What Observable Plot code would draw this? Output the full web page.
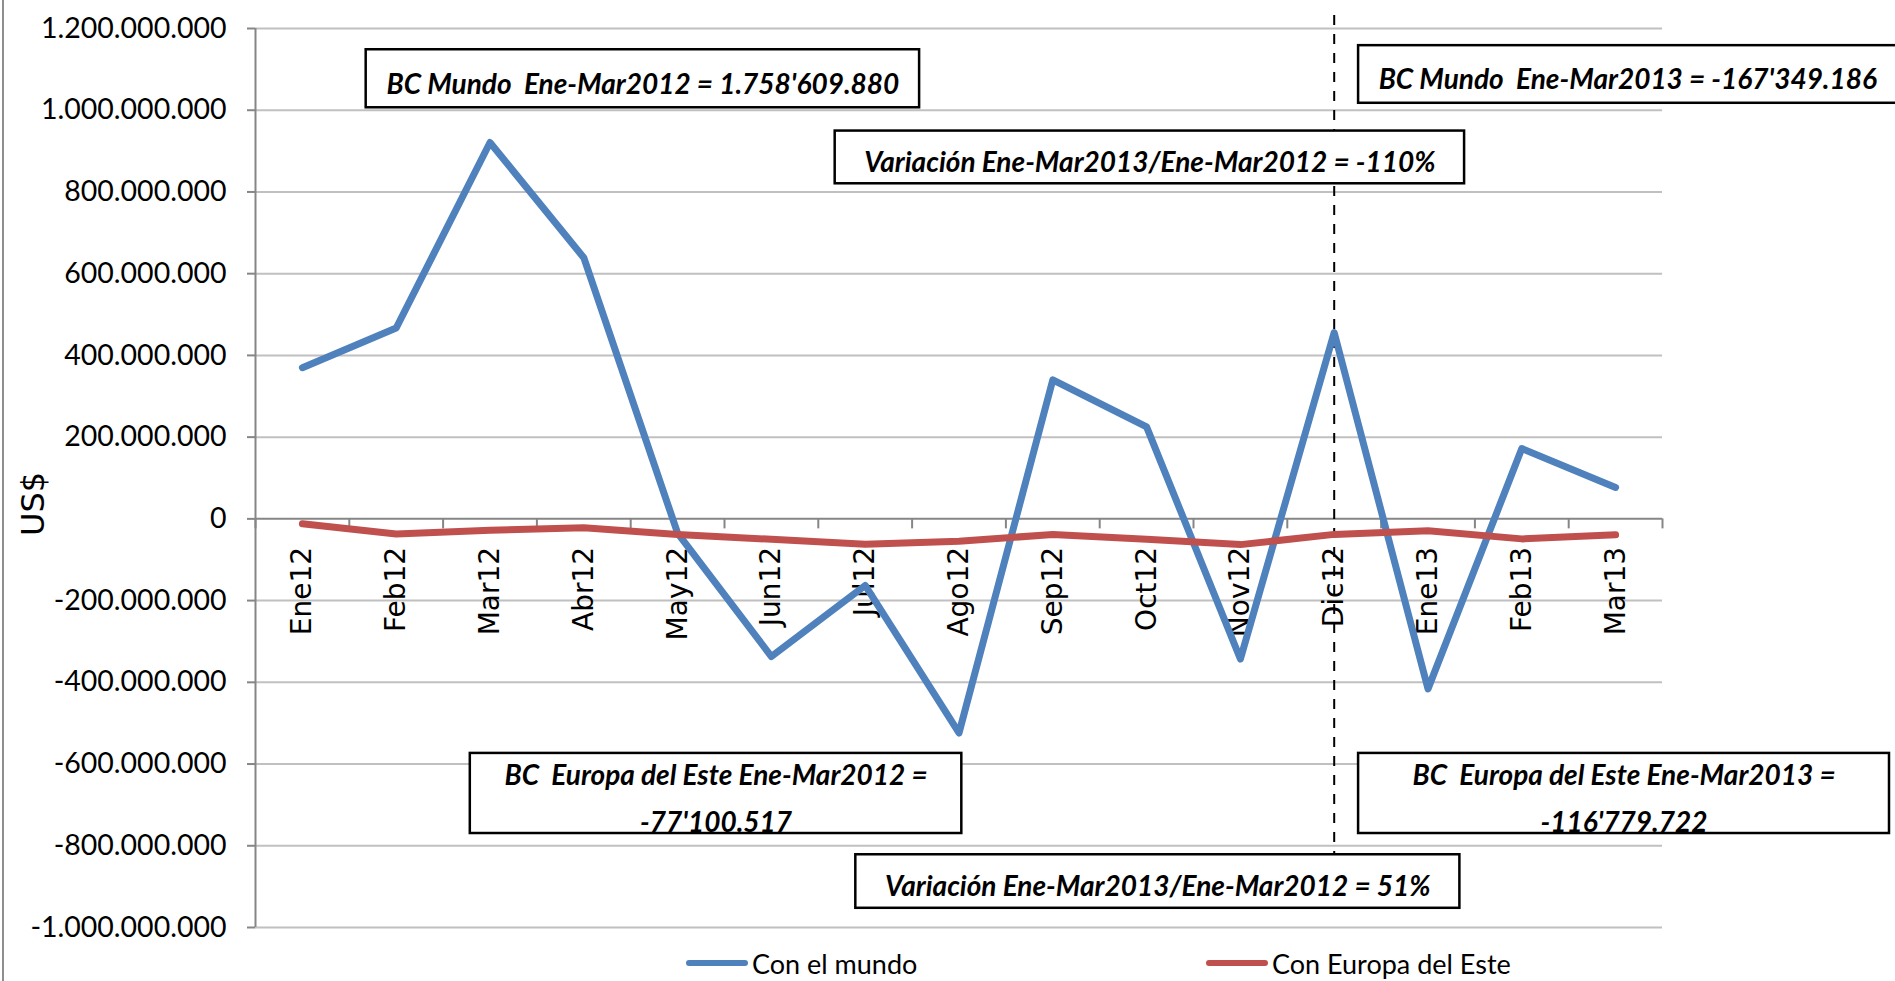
<!DOCTYPE html>
<html>
<head>
<meta charset="utf-8">
<script src="https://cdn.jsdelivr.net/npm/d3@7"></script>
<script src="https://cdn.jsdelivr.net/npm/@observablehq/plot@0.6"></script>
<style>
  html, body { margin: 0; padding: 0; background: #fff; overflow: hidden; }
  #wrap { position: relative; width: 1895px; height: 981px; background: #fff; }
  #border { position: absolute; left: 2px; top: 0; width: 2px; height: 981px; background: #8e8e8e; }
  #chart { position: absolute; left: 0; top: 0; }
  #legend { position: absolute; left: 0; top: 945px; width: 1895px; height: 36px; }
  .item { position: absolute; top: 0; height: 36px; display: flex; align-items: center;
          font-family: Lato, "Open Sans", sans-serif; font-size: 27px; color: #000; white-space: nowrap; }
  .sw { width: 62px; height: 6px; border-radius: 3px; margin-right: 4px; }
</style>
</head>
<body>
<div id="wrap">
  <div id="chart"></div>
  <div id="border"></div>
  <div id="legend"></div>
</div>
<script>
// ---- data ----
const months = ["Ene12","Feb12","Mar12","Abr12","May12","Jun12","Jul12","Ago12","Sep12","Oct12","Nov12","Dic12","Ene13","Feb13","Mar13"];
const conElMundo = [370e6, 467e6, 921e6, 639e6, -35e6, -337e6, -163e6, -524e6, 340e6, 225e6, -343e6, 456e6, -416e6, 172e6, 77e6];
const conEuropaDelEste = [-12e6, -37e6, -28e6, -22e6, -38e6, -50e6, -62e6, -55e6, -38e6, -50e6, -63e6, -38e6, -29e6, -49e6, -39e6];
const seriesNames = ["Con el mundo", "Con Europa del Este"];
const seriesColors = ["#4f81bd", "#c0504d"];
const yTicks = [-1e9, -8e8, -6e8, -4e8, -2e8, 0, 2e8, 4e8, 6e8, 8e8, 1e9, 1.2e9];
const yLabel = "US$";

// annotation boxes (in data units: month index / US$)
const notes = [
  {text: "BC Mundo  Ene-Mar2012 = 1.758'609.880", x1: 0.68, x2: 6.58, y1: 1.148e9, y2: 1.006e9},
  {text: "BC Mundo  Ene-Mar2013 = -167'349.186", x1: 11.26, x2: 17.0, y1: 1.158e9, y2: 1.017e9},
  {text: "Variación Ene-Mar2013/Ene-Mar2012 = -110%", x1: 5.68, x2: 12.39, y1: 0.949e9, y2: 0.820e9},
  {text: "BC  Europa del Este Ene-Mar2012 =\n-77'100.517", x1: 1.79, x2: 7.03, y1: -0.574e9, y2: -0.770e9},
  {text: "BC  Europa del Este Ene-Mar2013 =\n-116'779.722", x1: 11.26, x2: 16.92, y1: -0.574e9, y2: -0.770e9},
  {text: "Variación Ene-Mar2013/Ene-Mar2012 = 51%", x1: 5.90, x2: 12.34, y1: -0.822e9, y2: -0.953e9}
];
const divider = {month: "Dic12", top: 1.232e9, bottom: -0.954e9};

// ---- build ----
const rows = [];
months.forEach((m, i) => {
  rows.push({i, v: conElMundo[i], s: seriesNames[0]});
  rows.push({i, v: conEuropaDelEste[i], s: seriesNames[1]});
});
const boundaries = d3.range(months.length + 1).map(i => i - 0.5);
const fmt = d3.formatLocale({decimal: ",", thousands: ".", grouping: [3], currency: ["$", ""], minus: "-"}).format(",");
const gridGray = "#c0c0c0", axisGray = "#868686";

const plot = Plot.plot({
  width: 1895,
  height: 945,
  marginLeft: 255,
  marginRight: 233,
  marginTop: 28,
  marginBottom: 18,
  style: {background: "transparent", overflow: "visible", color: "#000"},
  x: {type: "linear", domain: [-0.5, months.length - 0.5], axis: null},
  y: {domain: [-1e9, 1.2e9]},
  color: {domain: seriesNames, range: seriesColors},
  marks: [
    Plot.ruleY(yTicks.filter(t => t !== 0), {stroke: gridGray, strokeWidth: 2}),
    Plot.ruleY([0], {stroke: axisGray, strokeWidth: 2}),
    Plot.ruleX([-0.5], {stroke: axisGray, strokeWidth: 2}),
    Plot.axisY(yTicks, {tickFormat: fmt, tickSize: 8, tickPadding: 21, label: null,
      stroke: axisGray, strokeWidth: 2, fill: "#000", fontSize: 28.5, fontFamily: "Lato"}),
    Plot.ruleX(boundaries, {x: d => d, y1: 0, y2: 0, insetBottom: -10, stroke: axisGray, strokeWidth: 2}),
    Plot.text(months, {x: (d, i) => i, y: 0, text: d => d, rotate: -90, textAnchor: "end", dy: 28,
      fontFamily: "DejaVu Sans", fontSize: 28, fill: "#000"}),
    Plot.text([yLabel], {frameAnchor: "left", dx: -222, dy: 58, rotate: -90,
      fontFamily: "DejaVu Sans", fontSize: 32, fill: "#000"}),
    Plot.ruleX([months.indexOf(divider.month)], {x: d => d, y1: divider.top, y2: divider.bottom,
      stroke: "#000", strokeWidth: 2, strokeDasharray: "10,9"}),
    Plot.line(rows, {x: "i", y: "v", z: "s", stroke: "s", strokeWidth: 7, strokeLinecap: "round", strokeLinejoin: "round"}),
    Plot.rect(notes, {x1: "x1", x2: "x2", y1: "y1", y2: "y2", fill: "#fff", stroke: "#000", strokeWidth: 2.5}),
    Plot.text(notes, {x: d => (d.x1 + d.x2) / 2, y: d => (d.y1 + d.y2) / 2, text: "text",
      fontFamily: "Lato", fontWeight: "bold", fontStyle: "italic", fontSize: 28, lineHeight: 1.66, fill: "#000"})
  ]
});
document.getElementById("chart").appendChild(plot);

// legend
const legendLeft = [686, 1206];
const lg = d3.select("#legend");
seriesNames.forEach((name, k) => {
  const it = lg.append("div").attr("class", "item").style("left", legendLeft[k] + "px");
  it.append("div").attr("class", "sw").style("background", seriesColors[k]);
  it.append("span").text(name);
});
</script>
</body>
</html>
